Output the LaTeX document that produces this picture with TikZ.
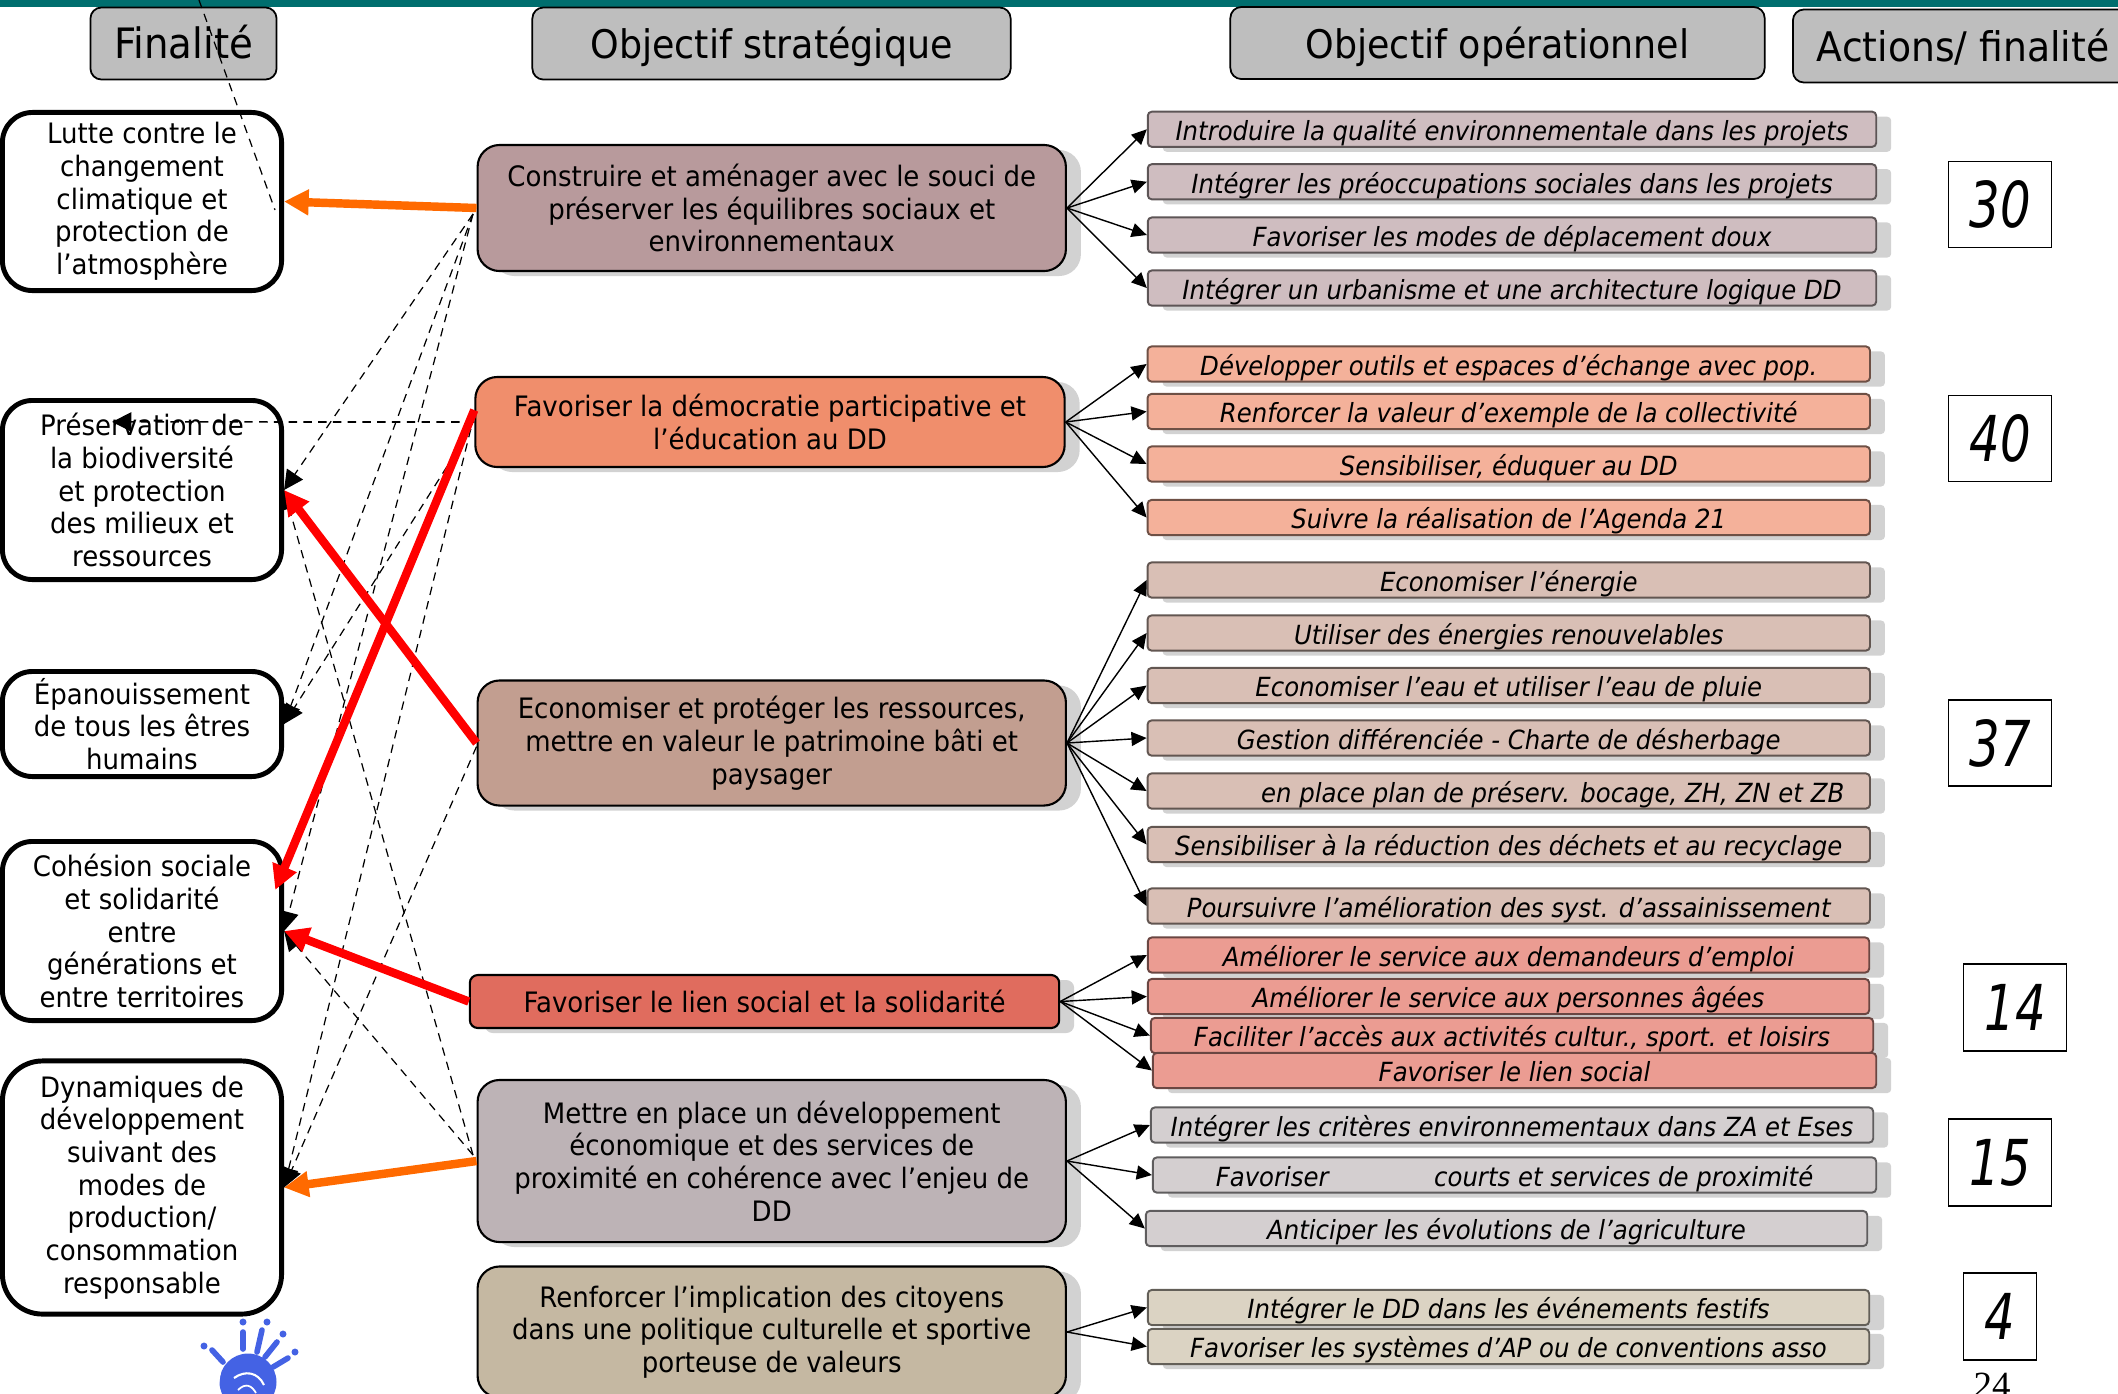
\documentclass[tikz,border=0pt]{standalone}
\usepackage{fontspec}
\setmainfont{DejaVu Sans}[FakeStretch=0.925]
\newfontfamily\numfont{DejaVu Sans}[FakeStretch=0.76]
\newfontfamily\pagefont{Liberation Serif}
\usetikzlibrary{arrows.meta,shadows,positioning,calc}
\definecolor{barteal}{HTML}{006E6E}
\definecolor{headgray}{HTML}{BEBEBE}
\definecolor{shadowgray}{HTML}{D2D2D2}
\definecolor{handblue}{HTML}{4462E4}
\definecolor{linkorange}{HTML}{FF6A00}
\definecolor{stratA}{HTML}{B89A9C}
\definecolor{stratB}{HTML}{F08E6C}
\definecolor{stratC}{HTML}{C29E90}
\definecolor{stratD}{HTML}{E06C5E}
\definecolor{stratE}{HTML}{BDB3B6}
\definecolor{stratF}{HTML}{C5B8A2}
\definecolor{operA}{HTML}{CFBDC0}
\definecolor{operB}{HTML}{F4B19A}
\definecolor{operC}{HTML}{D9BFB5}
\definecolor{operD}{HTML}{EB9C92}
\definecolor{operE}{HTML}{D4CFD0}
\definecolor{operF}{HTML}{DBD3C3}
\tikzset{
  softshadow/.style={drop shadow={shadow xshift=0.15cm, shadow yshift=-0.05cm, fill=shadowgray, opacity=1}},
  headbox/.style={draw=black, line width=0.5pt, fill=headgray, rounded corners=0.11cm, inner sep=0pt,
    minimum height=0.72cm, text height=1.06em, text depth=0.2em, font=\fontsize{11.2}{13}\selectfont},
  finbox/.style={draw=black, line width=1.4pt, fill=white, rounded corners=0.3cm, inner sep=0pt,
    minimum width=2.79cm, align=center, font=\fontsize{8}{9.3}\selectfont},
  stratbox/.style={draw=black, line width=0.6pt, fill=#1, rounded corners=0.22cm, inner sep=0pt,
    softshadow, align=center, font=\fontsize{8}{9.3}\selectfont},
  operbox/.style={draw=#1!45!black, line width=0.55pt, fill=#1, rounded corners=0.04cm, inner sep=0pt,
    softshadow, text height=0.82em, text depth=0.18em, font=\fontsize{7.5}{9}\selectfont\itshape},
  numbox/.style={draw=black, line width=0.5pt, fill=white, inner sep=0pt,
    minimum height=0.86cm, font=\numfont\fontsize{18}{20}\selectfont\itshape},
  fanlink/.style={-{Triangle[length=4.3pt,width=4pt]}, black, line width=0.4pt},
  dashlink/.style={-{Triangle[length=5.5pt,width=5.5pt]}, black, line width=0.35pt, dash pattern=on 2.4pt off 1.8pt},
  thicklink/.style={-{Triangle[length=7pt,width=7pt]}, line width=2.4pt, #1}
}
\begin{document}
\begin{tikzpicture}[x=0.01cm, y=-0.01cm]
  \useasboundingbox (0,0) rectangle (2118,1393);
  \fill[barteal] (0,0) rectangle (2118,7);

  % column heads
  \node[headbox, minimum width=1.86cm, font=\fontsize{11.9}{13}\selectfont] (headfin) at (183.5,43.5) {Finalité};
  \node[headbox, minimum width=4.78cm] (headstrat) at (771.5,43.5) {Objectif stratégique};
  \node[headbox, minimum width=5.34cm] (headoper) at (1497.5,43) {Objectif opérationnel};
  \node[headbox, minimum width=3.40cm, minimum height=0.73cm, font=\fontsize{11.6}{13}\selectfont] (headact) at (1963,46) {Actions/ finalité};

  % left column
  \node[finbox, minimum height=1.78cm] (fin1) at (142,201.5) {Lutte contre le\\changement\\climatique et\\protection de\\l’atmosphère};
  \node[finbox, minimum height=1.79cm] (fin2) at (142,490) {Préservation de\\la biodiversité\\et protection\\des milieux et\\ressources};
  \node[finbox, minimum height=1.05cm] (fin3) at (142,724) {Épanouissement\\de tous les êtres\\humains};
  \node[finbox, minimum height=1.79cm] (fin4) at (142,931) {Cohésion sociale\\et solidarité\\entre\\générations et\\entre territoires};
  \node[finbox, minimum height=2.53cm, rounded corners=0.4cm] (fin5) at (142,1187.5) {Dynamiques de\\développement\\suivant des\\modes de\\production/\\consommation\\responsable};

  % middle column
  \node[stratbox=stratA, minimum width=5.88cm, minimum height=1.26cm] (strat1) at (771.75,208) {Construire et aménager avec le souci de\\préserver les équilibres sociaux et\\environnementaux};
  \node[stratbox=stratB, minimum width=5.89cm, minimum height=0.9cm] (strat2) at (770,422) {Favoriser la démocratie participative et\\l’éducation au DD};
  \node[stratbox=stratC, minimum width=5.88cm, minimum height=1.25cm] (strat3) at (771.75,743) {Economiser et protéger les ressources,\\mettre en valeur le patrimoine bâti et\\paysager};
  \node[stratbox=stratD, minimum width=5.89cm, minimum height=0.53cm, rounded corners=0.08cm] (strat4) at (764.5,1001.5) {Favoriser le lien social et la solidarité};
  \node[stratbox=stratE, minimum width=5.88cm, minimum height=1.62cm] (strat5) at (771.75,1161) {Mettre en place un développement\\économique et des services de\\proximité en cohérence avec l’enjeu de\\DD};
  \node[stratbox=stratF, minimum width=5.88cm, minimum height=1.31cm] (strat6) at (771.75,1332) {Renforcer l’implication des citoyens\\dans une politique culturelle et sportive\\porteuse de valeurs};

  % right column
  \foreach \n/\cy/\txt in {1/129.25/Introduire la qualité environnementale dans les projets,
      2/181.75/Intégrer les préoccupations sociales dans les projets,
      3/235/Favoriser les modes de déplacement doux,
      4/288/Intégrer un urbanisme et une architecture logique DD} {
    \node[operbox=operA, minimum width=7.28cm, minimum height=0.325cm] (opA\n) at (1512,\cy) {\txt};
    \draw[fanlink] (strat1.east) -- (opA\n.west);
  }
  \foreach \n/\cy/\txt in {1/364/Développer outils et espaces d’échange avec pop.,
      2/411.5/Renforcer la valeur d’exemple de la collectivité,
      3/464/{Sensibiliser, éduquer au DD},
      4/517.5/Suivre la réalisation de l’Agenda 21} {
    \node[operbox=operB, minimum width=7.22cm, minimum height=0.325cm] (opB\n) at (1508.75,\cy) {\txt};
    \draw[fanlink] (strat2.east) -- (opB\n.west);
  }
  \foreach \n/\cy/\txt in {1/580/Economiser l’énergie,
      2/633/Utiliser des énergies renouvelables,
      3/685.5/Economiser l’eau et utiliser l’eau de pluie,
      4/738/Gestion différenciée - Charte de désherbage,
      5/791/{\hspace*{25pt}en place plan de préserv. bocage, ZH, ZN et ZB},
      6/844.5/Sensibiliser à la réduction des déchets et au recyclage,
      7/906/Poursuivre l’amélioration des syst. d’assainissement} {
    \node[operbox=operC, minimum width=7.22cm, minimum height=0.325cm] (opC\n) at (1508.75,\cy) {\txt};
    \draw[fanlink] (strat3.east) -- (opC\n.west);
  }
  \foreach \n/\cx/\cy/\bw/\bh/\txt in {1/1508.5/955/7.21/0.34/Améliorer le service aux demandeurs d’emploi,
      2/1508.5/996.5/7.21/0.28/Améliorer le service aux personnes âgées,
      3/1512/1035.5/7.22/0.28/{Faciliter l’accès aux activités cultur., sport. et loisirs},
      4/1514.5/1070.5/7.23/0.28/Favoriser le lien social} {
    \node[operbox=operD, minimum width=\bw cm, minimum height=\bh cm] (opD\n) at (\cx,\cy) {\txt};
    \draw[fanlink] (strat4.east) -- (opD\n.west);
  }
  \foreach \n/\cx/\cy/\bw/\txt in {1/1512/1125/7.22/Intégrer les critères environnementaux dans ZA et Eses,
      2/1514.5/1175/7.23/{Favoriser\hspace{30pt}courts et services de proximité},
      3/1506.5/1228.5/7.21/Anticiper les évolutions de l’agriculture} {
    \node[operbox=operE, minimum width=\bw cm, minimum height=0.325cm] (opE\n) at (\cx,\cy) {\txt};
    \draw[fanlink] (strat5.east) -- (opE\n.west);
  }
  \foreach \n/\cy/\txt in {1/1307.5/Intégrer le DD dans les événements festifs,
      2/1346.5/Favoriser les systèmes d’AP ou de conventions asso} {
    \node[operbox=operF, minimum width=7.21cm, minimum height=0.32cm] (opF\n) at (1508.5,\cy) {\txt};
    \draw[fanlink] (strat6.east) -- (opF\n.west);
  }

  % totals
  \node[numbox, minimum width=1.03cm] (num1) at (2000,204.5) {30};
  \node[numbox, minimum width=1.03cm] (num2) at (2000,438.5) {40};
  \node[numbox, minimum width=1.03cm] (num3) at (2000,743) {37};
  \node[numbox, minimum width=1.03cm, minimum height=0.87cm] (num4) at (2015,1007.5) {14};
  \node[numbox, minimum width=1.03cm, minimum height=0.87cm] (num5) at (2000,1162.5) {15};
  \node[numbox, minimum width=0.73cm, minimum height=0.87cm] (num6) at (2000,1316.5) {4};
  \node[font=\pagefont\fontsize{10.5}{12}\selectfont, inner sep=0pt] (pagenum) at (1992,1385) {24};

  % dashed links
  \coordinate (straytop) at (199,0);
  \coordinate (strayend) at (275,210);
  \draw[black, line width=0.35pt, dash pattern=on 2.4pt off 1.8pt] (straytop) -- (strayend);
  \draw[dashlink] ([xshift=-1pt,yshift=-1.7pt]strat1.west) -- (fin2.east);
  \draw[dashlink] ([xshift=-1pt,yshift=-1.7pt]strat1.west) -- (fin3.east);
  \draw[dashlink] ([xshift=-1pt,yshift=-1.7pt]strat1.west) -- (fin4.east);
  \draw[dashlink, line width=0.45pt] (strat2.west) -- ([xshift=-8.5pt,yshift=-6.8pt]fin2.north);
  \draw[dashlink] ([xshift=-1pt,yshift=-2pt]strat2.west) -- (fin3.east);
  \draw[dashlink] ([xshift=-1pt,yshift=-2pt]strat2.west) -- (fin5.east);
  \draw[dashlink] ([yshift=-1pt]strat3.west) -- (fin5.east);
  \draw[dashlink] ([xshift=-1pt,yshift=1.7pt]strat5.west) -- (fin2.east);
  \draw[dashlink] ([xshift=-1pt,yshift=1.7pt]strat5.west) -- (fin4.east);

  % main links
  \draw[thicklink=linkorange] (strat1.west) -- (fin1.east);
  \draw[thicklink=red] ([yshift=3.4pt]strat2.west) -- ([xshift=-2.5pt,yshift=11.7pt]fin4.east);
  \draw[thicklink=red] (strat3.west) -- (fin2.east);
  \draw[thicklink=red] (strat4.west) -- (fin4.east);
  \draw[thicklink=linkorange] (strat5.west) -- (fin5.east);

  % hand and globe
  \fill[handblue] (248,1382) circle (28.5);
  \draw[white, line width=0.6pt] (234,1378) .. controls (245,1370) and (258,1372) .. (264,1385);
  \draw[white, line width=0.5pt] (238,1390) .. controls (246,1382) and (252,1386) .. (256,1393);
  \draw[white, line width=0.4pt] (222,1362) -- (218,1385);
  \foreach \a/\b/\c/\d/\e/\f in {243/1332/243/1349/243/1322, 262/1330/257/1352/267/1322,
      277/1342/265/1357/283/1334, 288/1358/273/1367/295/1352, 212/1350/223/1362/204/1346} {
    \draw[handblue, line width=1.6pt, line cap=round] (\a,\b) -- (\c,\d);
    \fill[handblue] (\e,\f) circle (3.5);
  }
\end{tikzpicture}
\end{document}
